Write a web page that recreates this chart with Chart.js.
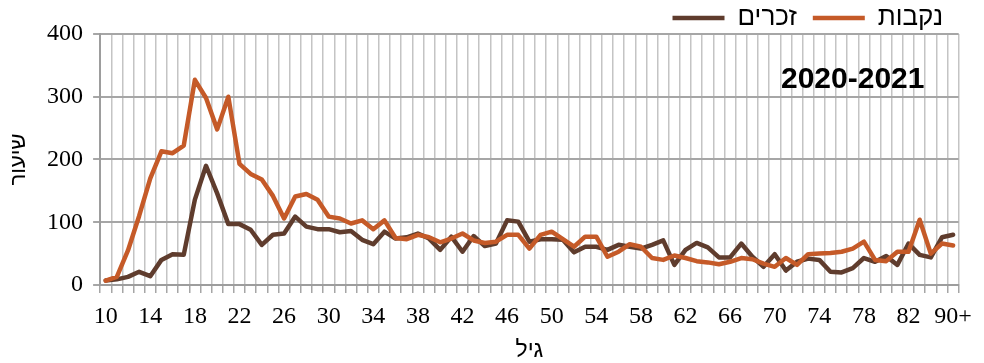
<!DOCTYPE html>
<html>
<head>
<meta charset="utf-8">
<script src="https://cdn.jsdelivr.net/npm/chart.js@4/dist/chart.umd.min.js"></script>
<style>
html,body{margin:0;padding:0;background:#fff;}
#wrap{width:984px;height:363px;}
</style>
</head>
<body>
<div id="wrap"><canvas id="c" width="984" height="363"></canvas></div>
<script>
// ---- data ----
const ageLabels = ['10','11','12','13','14','15','16','17','18','19',
  '20','21','22','23','24','25','26','27','28','29',
  '30','31','32','33','34','35','36','37','38','39',
  '40','41','42','43','44','45','46','47','48','49',
  '50','51','52','53','54','55','56','57','58','59',
  '60','61','62','63','64','65','66','67','68','69',
  '70','71','72','73','74','75','76','77','78','79',
  '80','81','82','83','84','85','90+'];

const maleRates = [7, 9, 13, 21, 14, 40, 49, 48, 136, 190,
  146, 97, 97, 88, 64, 80, 82, 109, 93, 89,
  89, 84, 86, 72, 65, 85, 74, 76, 82, 74,
  56, 77, 53, 78, 62, 66, 103, 101, 69, 73,
  73, 72, 52, 61, 61, 56, 64, 61, 58, 64,
  71, 32, 56, 67, 60, 44, 44, 66, 45, 29,
  49, 23, 37, 42, 40, 21, 20, 27, 43, 37,
  46, 32, 66, 48, 44, 76, 80];

const femaleRates = [7, 13, 55, 110, 170, 213, 210, 222, 327, 298,
  248, 300, 193, 177, 168, 142, 106, 141, 145, 136,
  109, 106, 98, 103, 89, 103, 75, 73, 80, 76,
  68, 74, 82, 71, 67, 69, 80, 80, 58, 80,
  85, 73, 61, 77, 77, 45, 53, 65, 61, 43,
  40, 47, 43, 38, 36, 33, 37, 43, 41, 34,
  29, 43, 32, 49, 50, 51, 53, 58, 69, 40,
  38, 53, 53, 104, 50, 66, 63];

const yTicks = [0, 100, 200, 300, 400];
const labelEvery = 4;
const maleName = 'זכרים';
const femaleName = 'נקבות';
const xTitle = 'גיל';
const yTitle = 'שיעור';
const periodText = '2020-2021';

// ---- styling ----
const SERIF = '"Liberation Serif", "Times New Roman", serif';
const HEB = '"Liberation Sans", Arial, "DejaVu Sans", sans-serif';
const BROWN = '#5f3c2d';
const ORANGE = '#c55a28';

const bgPlugin = {
  id: 'bg',
  beforeDraw(chart) {
    const ctx = chart.ctx;
    ctx.save();
    ctx.fillStyle = '#ffffff';
    ctx.fillRect(0, 0, chart.width, chart.height);
    ctx.restore();
  }
};

const periodPlugin = {
  id: 'period',
  afterDraw(chart) {
    const {ctx, chartArea: a} = chart;
    ctx.save();
    ctx.font = 'bold 30px "Liberation Sans", Arial, sans-serif';
    ctx.fillStyle = '#000';
    ctx.textAlign = 'center';
    ctx.textBaseline = 'middle';
    ctx.fillText(periodText, a.right - 106, a.top + 46);
    ctx.restore();
  }
};

const legendPlace = {
  id: 'legendPlace',
  beforeLayout(chart) {
    const lg = chart.legend;
    if (lg && !lg._patched) {
      const origFit = lg.fit;
      lg.fit = function () { origFit.call(this); this.height = 34; };
      lg._patched = true;
    }
  },
  afterLayout(chart) {
    const lg = chart.legend;
    if (!lg) return;
    lg.top = -11;
    lg.bottom = 40;
    lg.right = 959;
  }
};

new Chart(document.getElementById('c'), {
  type: 'line',
  data: {
    labels: ageLabels,
    datasets: [
      {
        label: femaleName,
        data: femaleRates,
        borderColor: ORANGE,
        backgroundColor: ORANGE,
        borderWidth: 4.5,
        pointRadius: 0,
        tension: 0,
        borderJoinStyle: 'round',
        borderCapStyle: 'round'
      },
      {
        label: maleName,
        data: maleRates,
        borderColor: BROWN,
        backgroundColor: BROWN,
        borderWidth: 4.5,
        pointRadius: 0,
        tension: 0,
        borderJoinStyle: 'round',
        borderCapStyle: 'round'
      }
    ]
  },
  options: {
    responsive: false,
    animation: false,
    devicePixelRatio: 1,
    layout: { padding: { left: 0, right: 17, top: 0, bottom: 0 } },
    plugins: {
      legend: {
        display: true,
        position: 'top',
        align: 'end',
        labels: {
          usePointStyle: true,
          pointStyle: 'line',
          pointStyleWidth: 52,
          padding: 16,
          color: '#000',
          font: { family: HEB, size: 26 },
          sort: (a, b) => b.datasetIndex - a.datasetIndex
        }
      },
      tooltip: { enabled: false }
    },
    scales: {
      x: {
        type: 'category',
        offset: true,
        grid: {
          offset: true,
          color: '#c4c4c4',
          lineWidth: 1.5,
          tickLength: 8,
          tickColor: '#a6a6a6'
        },
        border: { color: '#9d9d9d', width: 2 },
        ticks: {
          autoSkip: false,
          maxRotation: 0,
          minRotation: 0,
          padding: 12,
          color: '#000',
          font: { family: SERIF, size: 24, lineHeight: 1 },
          callback: (v, i) => (i % labelEvery === 0 ? ageLabels[i] : '')
        },
        title: {
          display: true,
          text: xTitle,
          color: '#000',
          font: { family: HEB, size: 23, lineHeight: 0.87 },
          padding: { top: 0, bottom: 2 }
        }
      },
      y: {
        min: yTicks[0],
        max: yTicks[yTicks.length - 1],
        afterBuildTicks: (axis) => { axis.ticks = yTicks.map(v => ({ value: v })); },
        grid: { color: '#a6a6a6', lineWidth: 2, tickLength: 7 },
        border: { color: '#9d9d9d', width: 2 },
        ticks: {
          padding: 10,
          color: '#000',
          font: { family: SERIF, size: 24 }
        },
        title: {
          display: true,
          text: yTitle,
          color: '#000',
          font: { family: HEB, size: 22, lineHeight: 1.05 },
          padding: { top: 7, bottom: 7 }
        }
      }
    }
  },
  plugins: [bgPlugin, periodPlugin, legendPlace]
});
</script>
</body>
</html>
